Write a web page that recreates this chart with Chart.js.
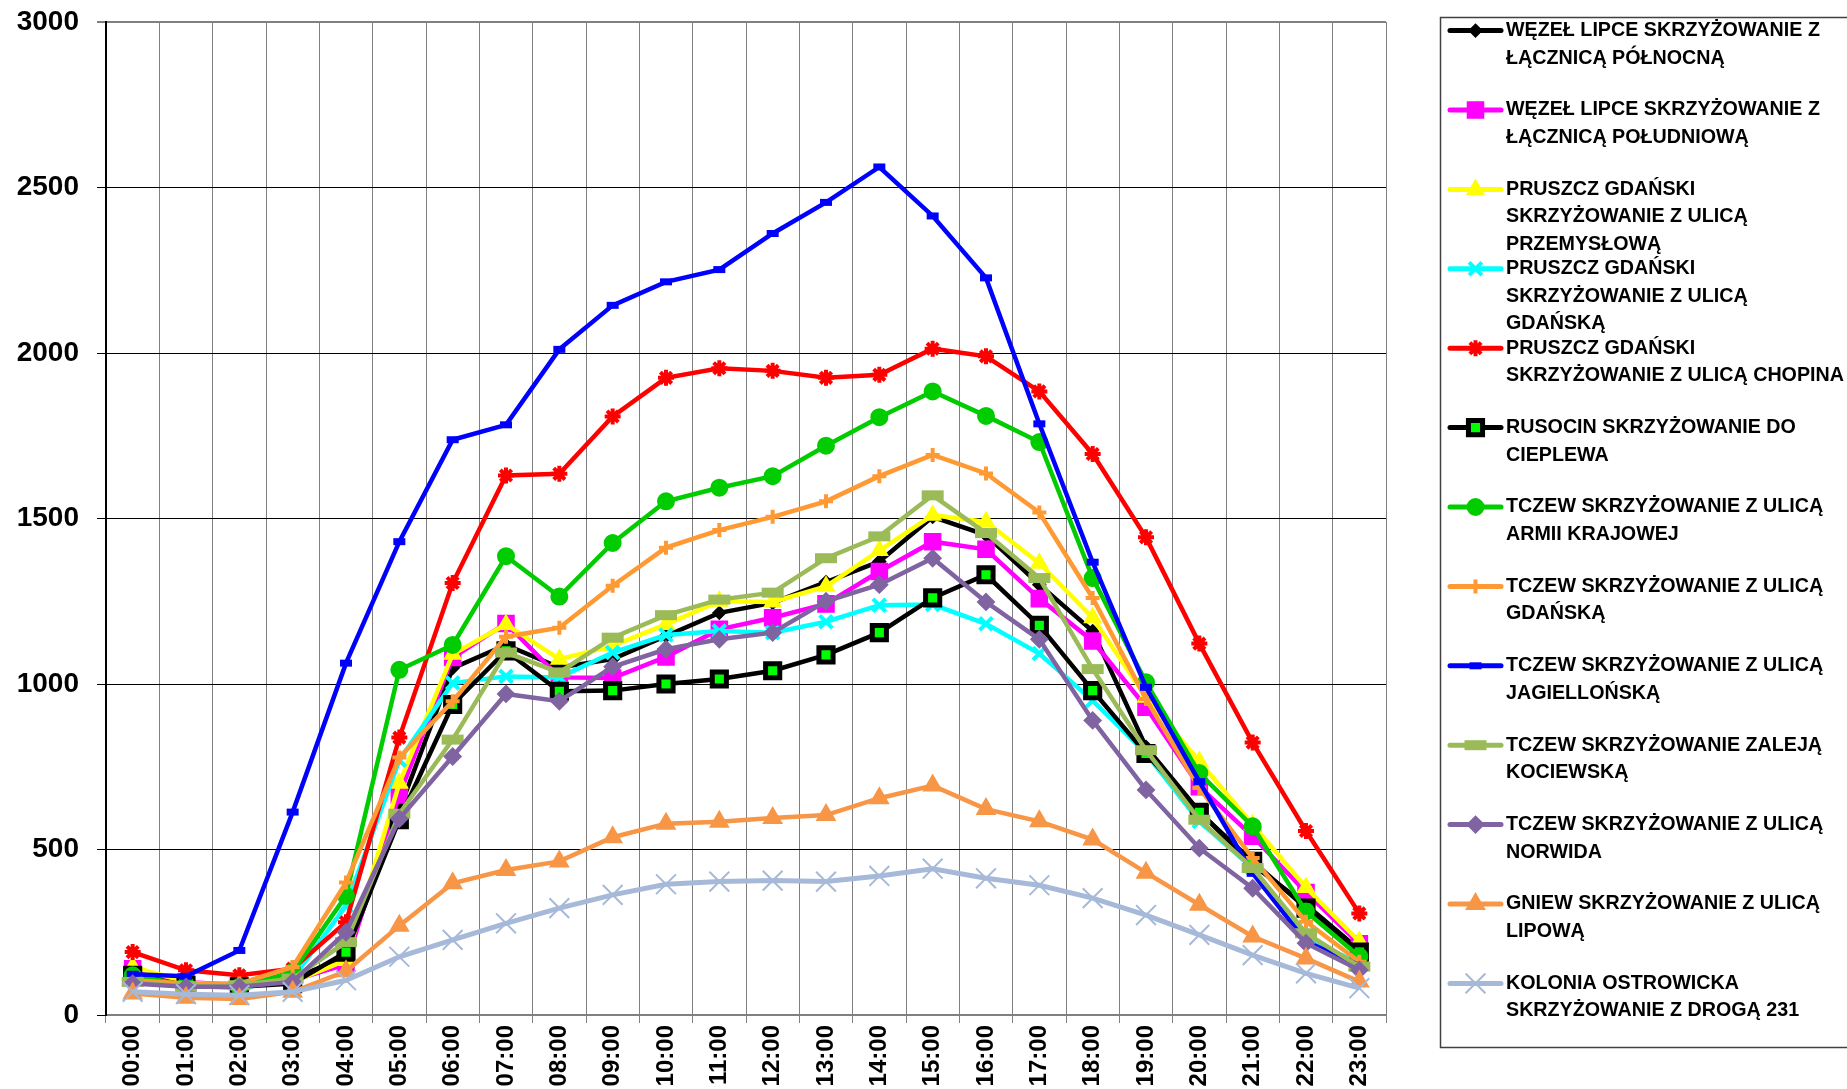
<!DOCTYPE html>
<html lang="pl">
<head>
  <meta charset="UTF-8">
  <title>Natężenie ruchu - rozkład godzinowy</title>
  <script src="https://cdn.jsdelivr.net/npm/chart.js"></script>
  <style>
    html, body { margin: 0; padding: 0; background: #fff; }
    canvas { display: block; }
  </style>
</head>
<body>
  <canvas id="wykres" width="1847" height="1089"></canvas>

  <script>
  // godziny (oś X) i podziałka osi Y
  const godziny = ['00:00', '01:00', '02:00', '03:00', '04:00', '05:00', '06:00', '07:00',
    '08:00', '09:00', '10:00', '11:00', '12:00', '13:00', '14:00', '15:00',
    '16:00', '17:00', '18:00', '19:00', '20:00', '21:00', '22:00', '23:00'];
  const podzialkaY = [0, 500, 1000, 1500, 2000, 2500, 3000];

  // wartości
  const lipcePolnocna = [125, 95, 90, 110, 175, 620, 1048, 1118, 1050, 1075, 1145, 1215, 1245, 1308, 1370, 1505, 1450, 1300, 1160, 810, 615, 454, 333, 197];
  const lipcePoludniowa = [140, 100, 90, 105, 153, 665, 1080, 1183, 1020, 1018, 1082, 1165, 1200, 1242, 1340, 1430, 1407, 1258, 1130, 930, 690, 540, 370, 215];
  const pruszczPrzemyslowa = [145, 100, 85, 100, 165, 700, 1090, 1180, 1075, 1115, 1180, 1250, 1248, 1295, 1403, 1510, 1490, 1365, 1200, 960, 766, 575, 385, 222];
  const pruszczGdanska = [110, 90, 80, 110, 330, 770, 1003, 1023, 1020, 1095, 1148, 1160, 1155, 1188, 1238, 1240, 1182, 1092, 950, 790, 585, 444, 232, 156];
  const pruszczChopina = [190, 135, 120, 140, 280, 838, 1305, 1630, 1635, 1808, 1925, 1954, 1946, 1925, 1934, 2013, 1990, 1884, 1695, 1443, 1122, 823, 556, 307];
  const rusocin = [120, 90, 85, 95, 190, 590, 938, 1100, 978, 980, 1000, 1015, 1040, 1088, 1155, 1260, 1330, 1177, 980, 790, 612, 464, 323, 190];
  const tczewArmii = [120, 90, 85, 130, 360, 1043, 1118, 1386, 1264, 1426, 1552, 1593, 1628, 1720, 1806, 1884, 1810, 1731, 1320, 1005, 731, 570, 313, 177];
  const tczewGdanska = [105, 95, 95, 145, 400, 778, 948, 1143, 1170, 1297, 1412, 1465, 1505, 1552, 1628, 1692, 1636, 1518, 1260, 955, 686, 474, 282, 161];
  const tczewJagiellonska = [123, 117, 195, 613, 1063, 1430, 1738, 1783, 2011, 2144, 2215, 2252, 2361, 2455, 2562, 2414, 2227, 1786, 1368, 990, 705, 428, 222, 150];
  const tczewKociewska = [100, 85, 90, 110, 220, 608, 832, 1095, 1035, 1140, 1208, 1255, 1276, 1380, 1446, 1570, 1456, 1320, 1045, 800, 590, 444, 247, 146];
  const tczewNorwida = [95, 85, 85, 100, 250, 593, 781, 970, 948, 1052, 1105, 1135, 1155, 1250, 1300, 1380, 1248, 1135, 890, 680, 504, 383, 217, 136];
  const gniewLipowa = [65, 52, 48, 70, 132, 270, 398, 438, 464, 537, 578, 584, 595, 604, 655, 693, 622, 585, 530, 430, 333, 237, 171, 101];
  const koloniaOstrowicka = [70, 63, 60, 70, 105, 176, 227, 277, 323, 363, 395, 403, 406, 403, 420, 442, 413, 392, 353, 302, 242, 181, 126, 81];

  // nazwy punktów pomiarowych (wiersze jak w legendzie)
  const nazwy = [
    ['WĘZEŁ LIPCE SKRZYŻOWANIE Z', 'ŁĄCZNICĄ PÓŁNOCNĄ'],
    ['WĘZEŁ LIPCE SKRZYŻOWANIE Z', 'ŁĄCZNICĄ POŁUDNIOWĄ'],
    ['PRUSZCZ GDAŃSKI', 'SKRZYŻOWANIE Z ULICĄ', 'PRZEMYSŁOWĄ'],
    ['PRUSZCZ GDAŃSKI', 'SKRZYŻOWANIE Z ULICĄ', 'GDAŃSKĄ'],
    ['PRUSZCZ GDAŃSKI', 'SKRZYŻOWANIE Z ULICĄ CHOPINA'],
    ['RUSOCIN SKRZYŻOWANIE DO', 'CIEPLEWA'],
    ['TCZEW SKRZYŻOWANIE Z ULICĄ', 'ARMII KRAJOWEJ'],
    ['TCZEW SKRZYŻOWANIE Z ULICĄ', 'GDAŃSKĄ'],
    ['TCZEW SKRZYŻOWANIE Z ULICĄ', 'JAGIELLOŃSKĄ'],
    ['TCZEW SKRZYŻOWANIE ZALEJĄ', 'KOCIEWSKĄ'],
    ['TCZEW SKRZYŻOWANIE Z ULICĄ', 'NORWIDA'],
    ['GNIEW SKRZYŻOWANIE Z ULICĄ', 'LIPOWĄ'],
    ['KOLONIA OSTROWICKA', 'SKRZYŻOWANIE Z DROGĄ 231']
  ];

  const FONT = '"Liberation Sans", Arial, sans-serif';

  // wygląd serii: kolor linii, znacznik, wypełnienie
  function seria(i, dane, kolor, znacznik, promien, opcje = {}) {
    return {
      label: nazwy[i].join(' '),
      data: dane,
      borderColor: kolor,
      borderWidth: opcje.linia || 4.5,
      pointStyle: znacznik,
      pointRadius: promien,
      pointHoverRadius: promien,
      pointBackgroundColor: opcje.wypelnienie || kolor,
      pointBorderColor: opcje.obramowanie || kolor,
      pointBorderWidth: opcje.ramka || 2,
      tension: 0,
      fill: false,
      order: nazwy.length - i   // późniejsze serie rysowane na wierzchu
    };
  }

  const datasets = [
    seria(0, lipcePolnocna, '#000000', 'rectRot', 6),
    seria(1, lipcePoludniowa, '#FF00FF', 'rect', 11),
    seria(2, pruszczPrzemyslowa, '#FFFF00', 'triangle', 9),
    seria(3, pruszczGdanska, '#00FFFF', 'crossRot', 9, { ramka: 4 }),
    seria(4, pruszczChopina, '#FF0000', 'star', 8, { ramka: 4 }),
    seria(5, rusocin, '#000000', 'rect', 10, { wypelnienie: '#00FF00', obramowanie: '#000000', ramka: 5 }),
    seria(6, tczewArmii, '#00CC00', 'circle', 8),
    seria(7, tczewGdanska, '#FF9933', 'cross', 7, { ramka: 4 }),
    seria(8, tczewJagiellonska, '#0000FF', 'line', 6, { ramka: 7 }),
    seria(9, tczewKociewska, '#9BBB59', 'line', 11, { ramka: 10 }),
    seria(10, tczewNorwida, '#8064A2', 'rectRot', 8),
    seria(11, gniewLipowa, '#F79646', 'triangle', 10),
    seria(12, koloniaOstrowicka, '#A6B9D8', 'crossRot', 14, { linia: 5, ramka: 2 })
  ];

  // legenda rysowana ręcznie (wielowierszowe opisy)
  const legenda = {
    id: 'legenda',
    afterDraw(chart) {
      const ctx = chart.ctx;
      ctx.save();
      ctx.strokeStyle = '#404040';
      ctx.lineWidth = 1.5;
      ctx.strokeRect(1440.5, 17.5, 430, 1030);

      chart.data.datasets.forEach((ds, i) => {
        const y = 30.6 + i * 79.4;
        ctx.strokeStyle = ds.borderColor;
        ctx.lineWidth = 5;
        ctx.lineCap = 'round';
        ctx.beginPath();
        ctx.moveTo(1450, y);
        ctx.lineTo(1501, y);
        ctx.stroke();
        ctx.lineCap = 'butt';

        ctx.fillStyle = ds.pointBackgroundColor;
        ctx.strokeStyle = ds.pointBorderColor;
        ctx.lineWidth = ds.pointBorderWidth;
        Chart.helpers.drawPoint(ctx, {
          pointStyle: ds.pointStyle,
          radius: ds.pointRadius,
          rotation: 0,
          borderWidth: ds.pointBorderWidth
        }, 1475.5, y);

        ctx.fillStyle = '#000';
        ctx.font = 'bold 19.7px ' + FONT;
        ctx.textAlign = 'left';
        ctx.textBaseline = 'middle';
        nazwy[i].forEach((wiersz, k) => {
          ctx.fillText(wiersz, 1506, y + k * 27.5);
        });
      });
      ctx.restore();
    }
  };

  const ctx = document.getElementById('wykres').getContext('2d');
  new Chart(ctx, {
    type: 'line',
    data: { labels: godziny, datasets: datasets },
    options: {
      responsive: false,
      animation: false,
      layout: { padding: { top: 22, right: 461, bottom: 0, left: 0 } },
      plugins: {
        legend: { display: false },
        tooltip: { enabled: false }
      },
      scales: {
        x: {
          offset: true,
          grid: { color: '#808080', lineWidth: 1, offset: true, tickLength: 8 },
          border: { color: '#808080', width: 2 },
          ticks: {
            autoSkip: false,
            minRotation: 90,
            maxRotation: 90,
            padding: 2,
            color: '#000',
            font: { family: FONT, size: 24, weight: 'bold' }
          },
          afterFit: (s) => { s.height = 74; }
        },
        y: {
          min: 0,
          max: 3000,
          afterBuildTicks: (s) => { s.ticks = podzialkaY.map(v => ({ value: v })); },
          grid: {
            color: (c) => c.tick && c.tick.value === 3000 ? '#808080' : '#000000',
            lineWidth: (c) => c.tick && c.tick.value === 3000 ? 2 : 1,
            tickLength: 9
          },
          border: { color: '#000', width: 2 },
          ticks: {
            padding: 18,
            color: '#000',
            font: { family: FONT, size: 28, weight: 'bold' },
            callback: (v) => String(v)
          },
          afterFit: (s) => {
            s.width = 106;
            s.paddingTop = 0;
            s.paddingBottom = 0;
          }
        }
      }
    },
    plugins: [legenda]
  });
</script>
</body>
</html>
